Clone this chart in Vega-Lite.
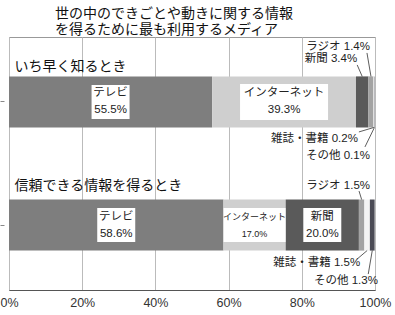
{
  "$schema": "https://vega.github.io/schema/vega-lite/v6.json",
  "width": 366,
  "height": 253,
  "autosize": {"type": "none"},
  "padding": {"left": 9, "top": 37, "right": 20, "bottom": 25},
  "background": "white",
  "config": {
    "view": {"stroke": "#999999", "strokeWidth": 1},
    "font": "Liberation Sans, Noto Sans CJK JP"
  },
  "title": {
    "text": ["世の中のできごとや動きに関する情報", "を得るために最も利用するメディア"],
    "anchor": "start",
    "frame": "group",
    "dx": 46,
    "offset": 0,
    "fontSize": 14,
    "lineHeight": 16.5,
    "font": "Noto Sans CJK JP",
    "fontWeight": "normal",
    "color": "#111111"
  },
  "data": {
    "values": [
      {"q": "いち早く知るとき", "media": "テレビ", "value": 55.5},
      {"q": "いち早く知るとき", "media": "インターネット", "value": 39.3},
      {"q": "いち早く知るとき", "media": "新聞", "value": 3.4},
      {"q": "いち早く知るとき", "media": "ラジオ", "value": 1.4},
      {"q": "いち早く知るとき", "media": "雑誌・書籍", "value": 0.2},
      {"q": "いち早く知るとき", "media": "その他", "value": 0.1},
      {"q": "信頼できる情報を得るとき", "media": "テレビ", "value": 58.6},
      {"q": "信頼できる情報を得るとき", "media": "インターネット", "value": 17.0},
      {"q": "信頼できる情報を得るとき", "media": "新聞", "value": 20.0},
      {"q": "信頼できる情報を得るとき", "media": "ラジオ", "value": 1.5},
      {"q": "信頼できる情報を得るとき", "media": "雑誌・書籍", "value": 1.5},
      {"q": "信頼できる情報を得るとき", "media": "その他", "value": 1.3}
    ]
  },
  "transform": [
    {"window": [{"op": "row_number", "as": "rank"}], "groupby": ["q"]}
  ],
  "encoding": {
    "y": {
      "field": "q",
      "type": "nominal",
      "sort": ["いち早く知るとき", "信頼できる情報を得るとき"],
      "scale": {"paddingInner": 0.585, "paddingOuter": 0.32},
      "axis": {"title": null, "labels": false, "ticks": true, "tickSize": 4, "offset": 5, "domain": false, "grid": false, "tickColor": "#888888"}
    },
    "color": {
      "field": "media",
      "type": "nominal",
      "scale": {
        "domain": ["テレビ", "インターネット", "新聞", "ラジオ", "雑誌・書籍", "その他"],
        "range": ["#7e7e7e", "#cfcfcf", "#5a5a5a", "#a3a3a3", "#f4f4f4", "#4b4b55"]
      },
      "legend": null
    },
    "order": {"field": "rank", "type": "quantitative", "sort": "ascending"}
  },
  "layer": [
    {
      "mark": {"type": "bar"},
      "encoding": {
        "x": {
          "field": "value",
          "type": "quantitative",
          "stack": "zero",
          "scale": {"domain": [0, 100], "nice": false},
          "axis": {
            "title": null,
            "values": [0, 20, 40, 60, 80, 100],
            "labelExpr": "datum.value + '%'",
            "grid": true,
            "gridColor": "#bbbbbb",
            "ticks": false,
            "domainColor": "#555555",
            "labelFontSize": 12.5,
            "labelColor": "#333333",
            "labelPadding": 6,
            "labelFlush": false
          }
        }
      }
    },
    {
      "mark": {
        "type": "point",
        "filled": true,
        "size": 4,
        "strokeWidth": 0,
        "shape": {"expr": "datum.media == 'インターネット' ? (datum.q == 'いち早く知るとき' ? 'M-44,-18H44V18H-44Z' : 'M-31,-17H31V17H-31Z') : 'M-19,-17H19V17H-19Z'"}
      },
      "encoding": {
        "x": {"field": "value", "type": "quantitative", "stack": "zero", "bandPosition": 0.5, "scale": {"domain": [0, 100], "nice": false}},
        "fill": {"value": "white"},
        "opacity": {"condition": {"test": "datum.value > 10", "value": 1}, "value": 0}
      }
    },
    {
      "mark": {
        "type": "text",
        "align": "center",
        "baseline": "middle",
        "lineHeight": 17,
        "dy": -8.5,
        "text": {"expr": "datum.value > 10 ? [datum.media, format(datum.value, '.1f') + '%'] : ''"},
        "fontSize": {"expr": "datum.media == 'インターネット' && datum.q != 'いち早く知るとき' ? 9 : 11.5"}
      },
      "encoding": {
        "x": {"field": "value", "type": "quantitative", "stack": "zero", "bandPosition": 0.5, "scale": {"domain": [0, 100], "nice": false}},
        "fill": {"value": "#222222"}
      }
    },
    {
      "mark": {
        "type": "text",
        "align": "right",
        "baseline": "middle",
        "fontSize": 11.5,
        "text": {"expr": "datum.value < 10 ? datum.media + ' ' + format(datum.value, '.1f') + '%' : ''"},
        "dx": {"expr": "({'Aラジオ': -1, 'A新聞': -5, 'A雑誌・書籍': -16, 'Aその他': -4.5, 'Bラジオ': 8.4, 'B雑誌・書籍': -7, 'Bその他': 5.7})[(datum.q == 'いち早く知るとき' ? 'A' : 'B') + datum.media] || 0"},
        "dy": {"expr": "({'Aラジオ': -55, 'A新聞': -43, 'A雑誌・書籍': 37, 'Aその他': 54, 'Bラジオ': -39, 'B雑誌・書籍': 38, 'Bその他': 56})[(datum.q == 'いち早く知るとき' ? 'A' : 'B') + datum.media] || 0"}
      },
      "encoding": {
        "x": {"field": "value", "type": "quantitative", "stack": "zero", "bandPosition": 0.5, "scale": {"domain": [0, 100], "nice": false}},
        "fill": {"value": "#222222"}
      }
    },
    {
      "mark": {
        "type": "point",
        "filled": false,
        "size": 4,
        "strokeWidth": 0.8,
        "shape": {"expr": "({'Aラジオ': 'M0,0L-4,-23.5', 'A新聞': 'M0,0L-5,-11.5', 'A雑誌・書籍': 'M0,0L-15,4.5', 'Aその他': 'M0,0L-9.5,19.5', 'Bラジオ': 'M0,0L-2.6,-8.5', 'B雑誌・書籍': 'M0,0L-10,8.5', 'Bその他': 'M0,0L-4,23.5'})[(datum.q == 'いち早く知るとき' ? 'A' : 'B') + datum.media] || 'circle'"},
        "yOffset": {"expr": "datum.media == 'ラジオ' || datum.media == '新聞' ? -25.5 : 25.5"}
      },
      "encoding": {
        "x": {"field": "value", "type": "quantitative", "stack": "zero", "bandPosition": 0.5, "scale": {"domain": [0, 100], "nice": false}},
        "stroke": {"value": "#333333"},
        "opacity": {"condition": {"test": "datum.value < 10", "value": 1}, "value": 0}
      }
    },
    {
      "transform": [{"filter": "datum.media == 'テレビ'"}],
      "mark": {
        "type": "text",
        "align": "left",
        "baseline": "middle",
        "fontSize": 14,
        "font": "Noto Sans CJK JP",
        "dx": 5.5,
        "dy": {"expr": "datum.q == 'いち早く知るとき' ? -35 : -39"}
      },
      "encoding": {
        "x": {"datum": 0, "type": "quantitative"},
        "text": {"field": "q"},
        "fill": {"value": "#111111"}
      }
    }
  ]
}
